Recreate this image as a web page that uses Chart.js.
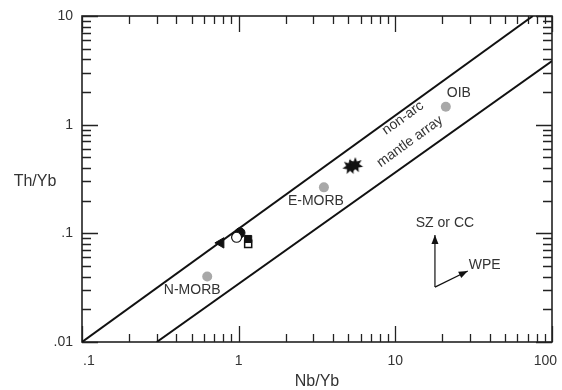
<!DOCTYPE html>
<html><head><meta charset="utf-8">
<script src="https://cdn.jsdelivr.net/npm/chart.js@4"></script>
<style>html,body{margin:0;padding:0;background:#fff;}</style>
</head><body>
<canvas id="c" width="562" height="390"></canvas>
<script>
// ---- data ----
const xTickValues = [0.1, 1, 10, 100];
const xTickLabels = ['.1', '1', '10', '100'];
const yTickValues = [0.01, 0.1, 1, 10];
const yTickLabels = ['.01', '.1', '1', '10'];

const refNames = ['N-MORB', 'E-MORB', 'OIB'];
const refNb = [0.63, 3.5, 21];
const refTh = [0.040, 0.265, 1.46];

const upperLineNb = [0.1, 75.5];
const upperLineTh = [0.01, 10];
const lowerLineNb = [0.3, 100];
const lowerLineTh = [0.01, 3.85];

const triNb = [0.77];  const triTh = [0.0817];
const openCircNb = [0.97]; const openCircTh = [0.092];
const fillCircNb = [1.02]; const fillCircTh = [0.101];
const fillSqNb = [1.15]; const fillSqTh = [0.0887];
const openSqNb = [1.15]; const openSqTh = [0.080];
const starNb = [5.15, 5.55]; const starTh = [0.41, 0.425];

// vector annotation (data coords): base, SZ or CC tip, WPE tip
const vecBase = [17.9, 0.032];
const vecUp = [17.9, 0.0966];
const vecWPE = [29, 0.045];

const pts = (xs, ys) => xs.map((x, i) => ({x: x, y: ys[i]}));

// filled star point style
function makeStar(r, n) {
  const c = document.createElement('canvas');
  c.width = c.height = 2 * r + 2;
  const g = c.getContext('2d');
  g.beginPath();
  for (let i = 0; i < 2 * n; i++) {
    const rr = i % 2 === 0 ? r : r * 0.5;
    const a = Math.PI * i / n - Math.PI / 2;
    const px = r + 1 + rr * Math.cos(a), py = r + 1 + rr * Math.sin(a);
    i === 0 ? g.moveTo(px, py) : g.lineTo(px, py);
  }
  g.closePath();
  g.fillStyle = '#111';
  g.fill();
  return c;
}
const starImg = makeStar(8, 7);

const FONT = '"Liberation Sans", Arial, sans-serif';
const TXT = '#333';

const decorPlugin = {
  id: 'decor',
  beforeDatasetsDraw(chart) {
    const {ctx, chartArea: a, scales: {x, y}} = chart;
    ctx.save();
    ctx.strokeStyle = '#222';
    ctx.lineWidth = 1.3;
    // ticks on four sides
    ctx.beginPath();
    for (let d = -1; d <= 2; d++) {
      for (let m = 1; m <= 9; m++) {
        const v = m * Math.pow(10, d);
        if (v < 0.1 - 1e-9 || v > 100 + 1e-9) continue;
        const px = Math.round(x.getPixelForValue(v)) + 0.5;
        const L = m === 1 ? 16 : 8;
        ctx.moveTo(px, a.bottom); ctx.lineTo(px, a.bottom - L);
        ctx.moveTo(px, a.top); ctx.lineTo(px, a.top + L);
      }
    }
    for (let d = -2; d <= 1; d++) {
      for (let m = 1; m <= 9; m++) {
        const v = m * Math.pow(10, d);
        if (v < 0.01 - 1e-9 || v > 10 + 1e-9) continue;
        const py = Math.round(y.getPixelForValue(v)) + 0.5;
        const L = m === 1 ? 16 : 9;
        ctx.moveTo(a.left, py); ctx.lineTo(a.left + L, py);
        ctx.moveTo(a.right, py); ctx.lineTo(a.right - L, py);
      }
    }
    ctx.stroke();
    ctx.lineWidth = 1.6;
    ctx.strokeRect(a.left, a.top, a.right - a.left, a.bottom - a.top);

    ctx.fillStyle = TXT;
    ctx.textAlign = 'center';
    ctx.textBaseline = 'middle';

    // x tick labels (kept inside the canvas at the edges)
    ctx.font = '14px ' + FONT;
    xTickValues.forEach((v, i) => {
      const w = ctx.measureText(xTickLabels[i]).width;
      let cx = x.getPixelForValue(v);
      cx = Math.max(cx, a.left + w / 2 + 1);
      cx = Math.min(cx, 557 - w / 2);
      ctx.fillText(xTickLabels[i], cx, a.bottom + 19);
    });

    // axis titles
    ctx.font = '16px ' + FONT;
    ctx.fillText('Nb/Yb', (a.left + a.right) / 2, 382);
    ctx.fillText('Th/Yb', 35, 182);

    // reference labels
    ctx.font = '14px ' + FONT;
    const offs = [[-15, 14], [-8, 14], [13, -14]];
    refNames.forEach((n, i) => {
      ctx.fillText(n, x.getPixelForValue(refNb[i]) + offs[i][0], y.getPixelForValue(refTh[i]) + offs[i][1]);
    });

    // rotated array labels
    const ang = Math.atan2(y.getPixelForValue(10) - y.getPixelForValue(0.01), x.getPixelForValue(75.5) - x.getPixelForValue(0.1));
    const put = (t, vx, vy) => {
      ctx.save();
      ctx.translate(x.getPixelForValue(vx), y.getPixelForValue(vy));
      ctx.rotate(ang);
      ctx.fillText(t, 0, 0);
      ctx.restore();
    };
    put('non-arc', 11.2, 1.15);
    put('mantle array', 12.4, 0.70);

    // vectors
    const bx = x.getPixelForValue(vecBase[0]), by = y.getPixelForValue(vecBase[1]);
    const arrow = (tx, ty) => {
      ctx.beginPath(); ctx.moveTo(bx, by); ctx.lineTo(tx, ty); ctx.stroke();
      const an = Math.atan2(ty - by, tx - bx), h = 9, w = 3.5;
      ctx.beginPath();
      ctx.moveTo(tx, ty);
      ctx.lineTo(tx - h * Math.cos(an) + w * Math.sin(an), ty - h * Math.sin(an) - w * Math.cos(an));
      ctx.lineTo(tx - h * Math.cos(an) - w * Math.sin(an), ty - h * Math.sin(an) + w * Math.cos(an));
      ctx.closePath(); ctx.fillStyle = '#111'; ctx.fill();
    };
    ctx.lineWidth = 1.2;
    ctx.strokeStyle = '#111';
    const ux = x.getPixelForValue(vecUp[0]), uy = y.getPixelForValue(vecUp[1]);
    const wx = x.getPixelForValue(vecWPE[0]), wy = y.getPixelForValue(vecWPE[1]);
    arrow(ux, uy);
    arrow(wx, wy);
    ctx.fillStyle = TXT;
    ctx.fillText('SZ or CC', ux + 10, uy - 12);
    ctx.textAlign = 'left';
    ctx.fillText('WPE', wx + 1, wy - 6);
    ctx.restore();
  }
};

const tickCb = (vals, labels) => (v) => {
  const i = vals.findIndex(t => Math.abs(Math.log10(t) - Math.log10(v)) < 1e-6);
  return i >= 0 ? labels[i] : '';
};

new Chart(document.getElementById('c'), {
  data: {
    datasets: [
      {type: 'line', data: pts(upperLineNb, upperLineTh), borderColor: '#111', borderWidth: 2, pointRadius: 0, fill: false},
      {type: 'line', data: pts(lowerLineNb, lowerLineTh), borderColor: '#111', borderWidth: 2, pointRadius: 0, fill: false},
      {type: 'scatter', data: pts(refNb, refTh), pointRadius: 5, backgroundColor: '#a8a8a8', borderWidth: 0},
      {type: 'scatter', data: pts(triNb, triTh), pointStyle: 'triangle', rotation: -90, pointRadius: 6, backgroundColor: '#111', borderColor: '#111', borderWidth: 1},
      {type: 'scatter', data: pts(openCircNb, openCircTh), pointRadius: 5, backgroundColor: '#fff', borderColor: '#111', borderWidth: 1.2},
      {type: 'scatter', data: pts(fillCircNb, fillCircTh), pointRadius: 5, backgroundColor: '#111', borderColor: '#111', borderWidth: 1},
      {type: 'scatter', data: pts(fillSqNb, fillSqTh), pointStyle: 'rect', pointRadius: 5, backgroundColor: '#111', borderColor: '#111', borderWidth: 1},
      {type: 'scatter', data: pts(openSqNb, openSqTh), pointStyle: 'rect', pointRadius: 5, backgroundColor: '#fff', borderColor: '#111', borderWidth: 1.5},
      {type: 'scatter', data: pts(starNb, starTh), pointStyle: starImg, pointRadius: 8}
    ]
  },
  options: {
    responsive: false, animation: false, devicePixelRatio: 1,
    layout: {autoPadding: false, padding: {top: 16, right: 10, left: 0, bottom: 0}},
    plugins: {legend: {display: false}, tooltip: {enabled: false}},
    scales: {
      x: {
        type: 'logarithmic', min: 0.1, max: 100,
        grid: {display: false, drawTicks: false}, border: {display: false},
        ticks: {display: false, autoSkip: false, callback: tickCb(xTickValues, xTickLabels)},
        afterFit: (s) => { s.height = 48; s.paddingLeft = 0; s.paddingRight = 0; }
      },
      y: {
        type: 'logarithmic', min: 0.01, max: 10,
        grid: {display: false, drawTicks: false}, border: {display: false},
        ticks: {autoSkip: false, padding: 9, color: TXT, font: {family: FONT, size: 14}, callback: tickCb(yTickValues, yTickLabels)},
        afterFit: (s) => { s.width = 82; s.paddingTop = 0; s.paddingBottom = 0; }
      }
    }
  },
  plugins: [decorPlugin]
});
</script>
</body></html>
